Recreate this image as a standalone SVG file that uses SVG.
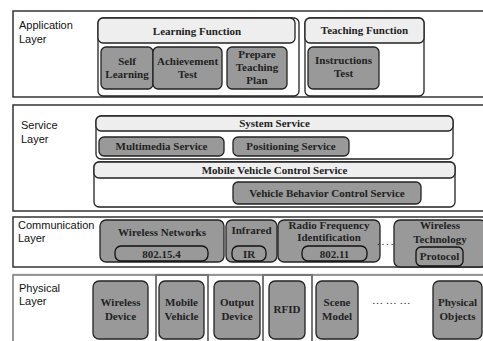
<svg xmlns="http://www.w3.org/2000/svg" width="483" height="341" viewBox="0 0 483 341">
<style>
.layer{fill:#fff;stroke:#333;stroke-width:1.5}
.lbl{font-family:"Liberation Sans",Arial,sans-serif;font-size:11px;fill:#111}
.grp{fill:#fff;stroke:#222;stroke-width:1.3}
.hdr{fill:#eeeeee;stroke:#222;stroke-width:1.3}
.node{fill:#999999;stroke:#222;stroke-width:1.3}
.pill{fill:#999999;stroke:#222;stroke-width:1.3}
.pillw{fill:#999999;stroke:#111;stroke-width:1.3}
.frame{fill:none;stroke:#777;stroke-width:2}
.t{font-family:"Liberation Serif","Times New Roman",serif;font-weight:bold;font-size:11px;fill:#222;text-anchor:middle}
.dots{font-family:"Liberation Serif",serif;font-size:11px;fill:#222}
</style>
<rect width="483" height="341" fill="#fff"/>

<!-- Application Layer -->
<g id="application-layer">
<rect class="layer" x="13" y="11" width="480" height="86"/>
<text class="lbl" x="19" y="29">Application</text>
<text class="lbl" x="19" y="43">Layer</text>
</g>
<g id="learning-function">
<rect class="grp" x="98" y="18" width="201" height="78" rx="5"/>
<rect class="hdr" x="98" y="18" width="197" height="25" rx="5"/>
<text class="t" x="197" y="35">Learning Function</text>
</g>
<g id="self-learning">
<rect class="node" x="101" y="47" width="52" height="42" rx="5"/>
<text class="t" x="127" y="65">Self</text>
<text class="t" x="127" y="78">Learning</text>
</g>
<g id="achievement-test">
<rect class="node" x="153" y="47" width="69" height="42" rx="5"/>
<text class="t" x="187.5" y="65">Achievement</text>
<text class="t" x="187.5" y="78">Test</text>
</g>
<g id="prepare-teaching-plan">
<rect class="node" x="227" y="47" width="60" height="42" rx="5"/>
<text class="t" x="257" y="58">Prepare</text>
<text class="t" x="257" y="71">Teaching</text>
<text class="t" x="257" y="84">Plan</text>
</g>
<g id="teaching-function">
<rect class="grp" x="305" y="18" width="119" height="78" rx="5"/>
<rect class="hdr" x="305" y="18" width="119" height="25" rx="5"/>
<text class="t" x="364.5" y="34">Teaching Function</text>
</g>
<g id="instructions-test">
<rect class="node" x="308" y="47" width="71" height="42" rx="5"/>
<text class="t" x="343.5" y="64">Instructions</text>
<text class="t" x="343.5" y="77">Test</text>
</g>

<!-- Service Layer -->
<g id="service-layer">
<rect class="layer" x="13" y="105" width="480" height="106"/>
<text class="lbl" x="21" y="129">Service</text>
<text class="lbl" x="21" y="143">Layer</text>
</g>
<g id="system-service">
<rect class="grp" x="96" y="116" width="357" height="43" rx="5"/>
<rect class="hdr" x="96" y="116" width="357" height="15" rx="5"/>
<text class="t" x="274.5" y="127">System Service</text>
</g>
<g id="multimedia-service">
<rect class="pill" x="99" y="137" width="125" height="19" rx="5"/>
<text class="t" x="161.5" y="150">Multimedia Service</text>
</g>
<g id="positioning-service">
<rect class="pill" x="233" y="137" width="116" height="19" rx="5"/>
<text class="t" x="291" y="150">Positioning Service</text>
</g>
<g id="mobile-vehicle-control-service">
<rect class="grp" x="94" y="162" width="361" height="45" rx="5"/>
<rect class="hdr" x="94" y="162" width="361" height="16" rx="5"/>
<text class="t" x="274.5" y="174">Mobile Vehicle Control Service</text>
</g>
<g id="vehicle-behavior-control-service">
<rect class="pill" x="233" y="182" width="188" height="22" rx="5"/>
<text class="t" x="327" y="197">Vehicle Behavior Control Service</text>
</g>

<!-- Communication Layer -->
<g id="communication-layer">
<rect class="layer" x="13" y="217" width="480" height="50"/>
<text class="lbl" x="18" y="229">Communication</text>
<text class="lbl" x="18" y="242">Layer</text>
</g>
<g id="wireless-networks">
<rect class="node" x="100" y="220" width="124" height="42" rx="6"/>
<text class="t" x="162" y="236">Wireless Networks</text>
<rect class="pillw" x="115" y="246" width="93" height="15" rx="6"/>
<text class="t" x="161.5" y="257.5">802.15.4</text>
</g>
<g id="infrared">
<rect class="node" x="226" y="220" width="51" height="42" rx="6"/>
<text class="t" x="251.5" y="234">Infrared</text>
<rect class="pillw" x="232" y="246" width="34" height="15" rx="6"/>
<text class="t" x="249" y="257.5">IR</text>
</g>
<g id="rfid-comm">
<rect class="node" x="278" y="220" width="102" height="42" rx="6"/>
<text class="t" x="329" y="229">Radio Frequency</text>
<text class="t" x="329" y="241">Identification</text>
<rect class="pillw" x="302" y="246" width="65" height="15" rx="6"/>
<text class="t" x="334.5" y="257.5">802.11</text>
</g>
<text class="dots" x="377" y="245" letter-spacing="1.8">....</text>
<g id="wireless-technology">
<rect class="node" x="394" y="220" width="92" height="47" rx="6"/>
<text class="t" x="440" y="229">Wireless</text>
<text class="t" x="440" y="243">Technology</text>
<rect class="pillw" x="416" y="247" width="47" height="19" rx="5"/>
<text class="t" x="439.5" y="260">Protocol</text>
</g>
<line x1="13" y1="274" x2="483" y2="274" stroke="#ddd" stroke-width="1"/>

<!-- Physical Layer -->
<g id="physical-layer">
<rect x="13" y="275" width="480" height="80" fill="#fff" stroke="#777" stroke-width="1.5"/>
<text class="lbl" x="19" y="292">Physical</text>
<text class="lbl" x="19" y="305">Layer</text>
</g>
<g id="wireless-device">
<rect class="node" x="93" y="281" width="55" height="58" rx="6"/>
<text class="t" x="120.5" y="306">Wireless</text>
<text class="t" x="120.5" y="320">Device</text>
</g>
<g id="mobile-vehicle">
<rect class="frame" x="156" y="275" width="52" height="70"/>
<rect class="node" x="159" y="281" width="45" height="58" rx="6"/>
<text class="t" x="181.5" y="306">Mobile</text>
<text class="t" x="181.5" y="320">Vehicle</text>
</g>
<g id="output-device">
<rect class="node" x="214" y="281" width="46" height="58" rx="6"/>
<text class="t" x="237" y="306">Output</text>
<text class="t" x="237" y="320">Device</text>
</g>
<g id="rfid">
<rect class="frame" x="263" y="275" width="49" height="70"/>
<rect class="node" x="269" y="281" width="36" height="58" rx="6"/>
<text class="t" x="287" y="313">RFID</text>
</g>
<g id="scene-model">
<rect class="node" x="316" y="281" width="42" height="58" rx="6"/>
<text class="t" x="337" y="306">Scene</text>
<text class="t" x="337" y="320">Model</text>
</g>
<text class="dots" x="372" y="304">… … …</text>
<g id="physical-objects">
<rect class="node" x="433" y="281" width="49" height="58" rx="6"/>
<text class="t" x="457.5" y="306">Physical</text>
<text class="t" x="457.5" y="320">Objects</text>
</g>
<g id="connectors"></g>
</svg>
